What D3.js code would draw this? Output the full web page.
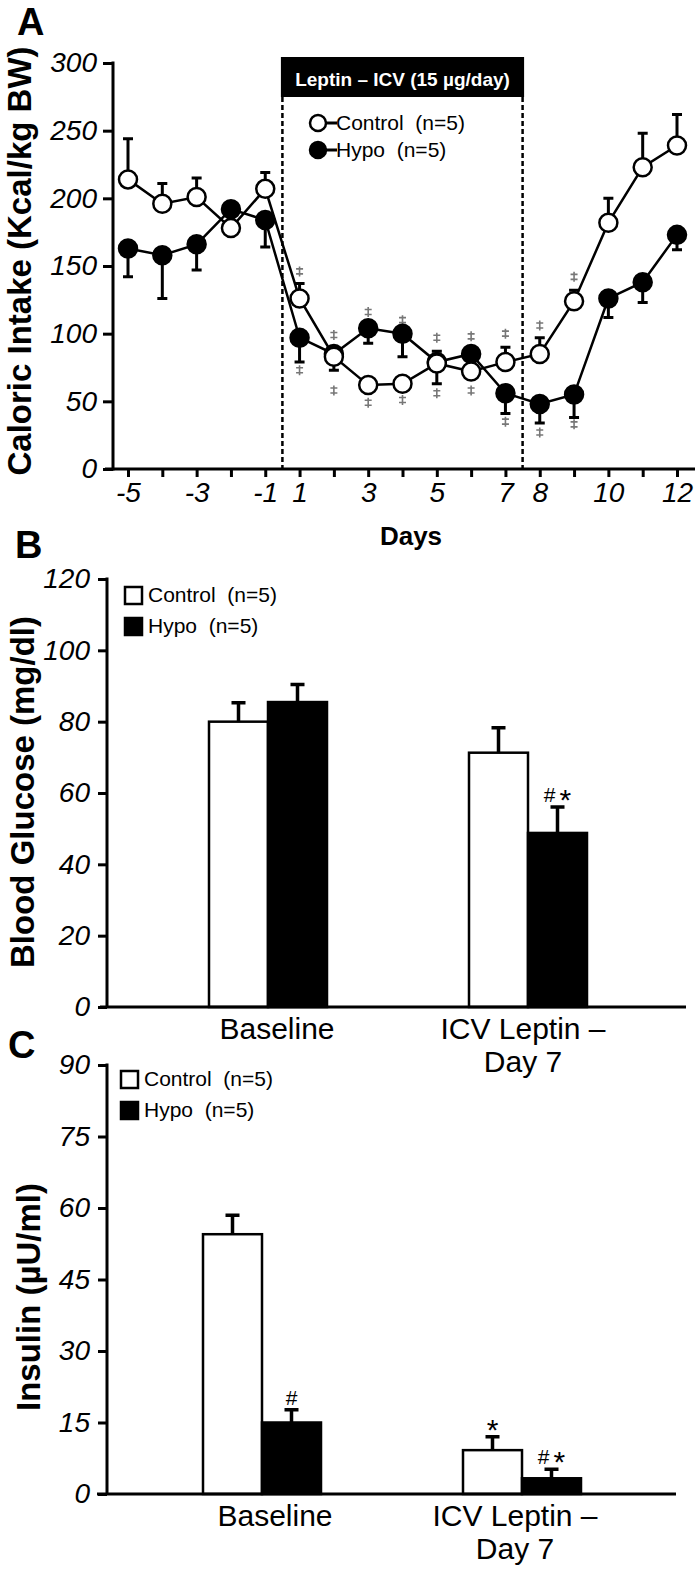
<!DOCTYPE html>
<html>
<head>
<meta charset="utf-8">
<script src="https://cdnjs.cloudflare.com/ajax/libs/d3/7.8.5/d3.min.js"></script>
<style>
  body { margin: 0; background: #fff; }
  svg { font-family: "Liberation Sans", Arial, sans-serif; }
</style>
</head>
<body>
<div id="chart"></div>
<script>
// ---- panel A: caloric intake per day ----
var days = ["-5", "-4", "-3", "-2", "-1", "1", "2", "3", "4", "5", "6", "7", "8", "9", "10", "11", "12"];
var dayLabels = ["-5", "-3", "-1", "1", "3", "5", "7", "8", "10", "12"];
var intakeTicks = [0, 50, 100, 150, 200, 250, 300];
var controlIntake = [214, 196, 201, 178, 207, 126, 83, 62, 63, 78, 72, 79, 85, 124, 182, 223, 239];
var controlIntakeSem = [30, 15, 14, 3, 12, 11, 4, 3, 3, 9, 4, 11, 12, 8, 18, 25, 23];
var hypoIntake = [163, 158, 166, 192, 184, 97, 85, 104, 100, 79, 85, 56, 48, 55, 126, 138, 173];
var hypoIntakeSem = [21, 32, 19, 4, 20, 18, 12, 11, 17, 16, 4, 15, 14, 17, 14, 15, 11];
// double-dagger marks (day, level in kcal/kg)
var sigDays = ["1", "1", "2", "2", "3", "3", "4", "4", "5", "5", "6", "6", "7", "7", "8", "8", "9", "9"];
var sigLevels = [146, 73, 99, 58, 116, 49, 110, 51, 97, 56, 98, 58, 100, 35, 106, 27, 142, 33];

// ---- panels B and C: bars ----
var groups = ["Baseline", "ICV Leptin – Day 7"];
var groupLines = [["Baseline"], ["ICV Leptin –", "Day 7"]];
var series = ["Control  (n=5)", "Hypo  (n=5)"];

var glucoseTicks = [0, 20, 40, 60, 80, 100, 120];
var glucoseControl = [80, 71.3];
var glucoseControlSem = [5.3, 7];
var glucoseHypo = [85.5, 48.8];
var glucoseHypoSem = [4.9, 7.3];
var glucoseControlMarks = ["", ""];
var glucoseHypoMarks = ["", "#*"];

var insulinTicks = [0, 15, 30, 45, 60, 75, 90];
var insulinControl = [54.5, 9.2];
var insulinControlSem = [4, 2.8];
var insulinHypo = [15, 3.3];
var insulinHypoSem = [2.7, 1.9];
var insulinControlMarks = ["", "*"];
var insulinHypoMarks = ["#", "#*"];

var width = 700, height = 1569;

var svg = d3.select("#chart").append("svg")
    .attr("width", width)
    .attr("height", height);

function styleAxis(g, size) {
    g.attr("font-family", null).attr("font-size", null);
    g.select(".domain").remove();
    g.selectAll(".tick line").attr("stroke", "#000").attr("stroke-width", 3);
    g.selectAll(".tick text")
        .attr("fill", "#000")
        .attr("font-size", size)
        .attr("font-style", "italic");
}

function panelLetter(t, x, y, size) {
    svg.append("text")
        .attr("x", x).attr("y", y)
        .attr("font-size", size)
        .attr("font-weight", "bold")
        .text(t);
}

function yTitle(t, x, y) {
    svg.append("text")
        .attr("transform", "translate(" + x + "," + y + ") rotate(-90)")
        .attr("text-anchor", "middle")
        .attr("font-size", 33)
        .attr("font-weight", "bold")
        .text(t);
}

// ================= panel A =================
var xA = d3.scalePoint().domain(days).range([128, 677]);
var yA = d3.scaleLinear().domain([0, 300]).range([469, 63]);

var gA = svg.append("g");

gA.append("g")
    .attr("transform", "translate(113,0)")
    .call(d3.axisLeft(yA).tickValues(intakeTicks).tickSize(10).tickPadding(6))
    .call(styleAxis, 28);

gA.append("g")
    .attr("transform", "translate(0," + yA(0) + ")")
    .call(d3.axisBottom(xA).tickSize(8).tickPadding(5)
        .tickFormat(function(d) { return dayLabels.indexOf(d) >= 0 ? d : ""; }))
    .call(styleAxis, 28);

gA.append("line")
    .attr("x1", 113).attr("x2", 113)
    .attr("y1", yA(300) - 1.5).attr("y2", yA(0) + 1.5)
    .attr("stroke", "#000").attr("stroke-width", 3);
gA.append("line")
    .attr("x1", 105).attr("x2", 695)
    .attr("y1", yA(0)).attr("y2", yA(0))
    .attr("stroke", "#000").attr("stroke-width", 3);

// leptin period: dashed lines + header box
var leptinStart = (xA("-1") + xA("1")) / 2,
    leptinEnd = (xA("7") + xA("8")) / 2;

[leptinStart, leptinEnd].forEach(function(lx) {
    gA.append("line")
        .attr("x1", lx).attr("x2", lx)
        .attr("y1", 97).attr("y2", yA(0))
        .attr("stroke", "#000").attr("stroke-width", 2.5)
        .attr("stroke-dasharray", "5,3");
});

gA.append("rect")
    .attr("x", leptinStart - 1.5).attr("y", 57)
    .attr("width", leptinEnd - leptinStart + 3).attr("height", 40)
    .attr("fill", "#000");
gA.append("text")
    .attr("x", (leptinStart + leptinEnd) / 2).attr("y", 86)
    .attr("text-anchor", "middle")
    .attr("fill", "#fff")
    .attr("font-size", 19)
    .attr("font-weight", "bold")
    .text("Leptin – ICV (15 µg/day)");

// ‡ drawn as small strokes so it stays plain grey
gA.selectAll(".sig")
    .data(sigDays)
    .enter().append("path")
    .attr("class", "sig")
    .attr("transform", function(d, i) { return "translate(" + xA(d) + "," + yA(sigLevels[i]) + ")"; })
    .attr("d", "M0,-5V5M-3.5,-2.5H3.5M-3.5,2.5H3.5")
    .attr("stroke", "#777")
    .attr("stroke-width", 1.6)
    .attr("fill", "none");

function drawSeries(values, sem, dir, fill) {
    var g = gA.append("g");
    g.selectAll(".err")
        .data(values)
        .enter().append("path")
        .attr("d", function(d, i) {
            var cx = xA(days[i]), y0 = yA(d), y1 = yA(d + dir * sem[i]);
            return "M" + cx + "," + y0 + "V" + y1 + "M" + (cx - 5) + "," + y1 + "H" + (cx + 5);
        })
        .attr("stroke", "#000").attr("stroke-width", 3).attr("fill", "none");

    g.append("path")
        .datum(values)
        .attr("d", d3.line()
            .x(function(d, i) { return xA(days[i]); })
            .y(function(d) { return yA(d); }))
        .attr("fill", "none")
        .attr("stroke", "#000")
        .attr("stroke-width", 2.5);

    g.selectAll("circle")
        .data(values)
        .enter().append("circle")
        .attr("cx", function(d, i) { return xA(days[i]); })
        .attr("cy", function(d) { return yA(d); })
        .attr("r", 9)
        .attr("fill", fill)
        .attr("stroke", "#000")
        .attr("stroke-width", 2.5);
}

drawSeries(hypoIntake, hypoIntakeSem, -1, "#000");
drawSeries(controlIntake, controlIntakeSem, 1, "#fff");

// legend A
[[123, "#fff", series[0]], [150, "#000", series[1]]].forEach(function(l) {
    gA.append("line")
        .attr("x1", 318).attr("x2", 337)
        .attr("y1", l[0]).attr("y2", l[0])
        .attr("stroke", "#000").attr("stroke-width", 3);
    gA.append("circle")
        .attr("cx", 318).attr("cy", l[0]).attr("r", 8)
        .attr("fill", l[1]).attr("stroke", "#000").attr("stroke-width", 2.5);
    gA.append("text")
        .attr("x", 336).attr("y", l[0] + 7)
        .attr("font-size", 21)
        .style("white-space", "pre")
        .text(l[2]);
});

gA.append("text")
    .attr("x", 411).attr("y", 545)
    .attr("text-anchor", "middle")
    .attr("font-size", 26)
    .attr("font-weight", "bold")
    .text("Days");

yTitle("Caloric Intake (Kcal/kg BW)", 31, 261);
panelLetter("A", 17, 35, 38);

// ================= bar panels =================
function drawBars(o) {
    var y = d3.scaleLinear().domain([0, o.ticks[o.ticks.length - 1]]).range(o.yRange);
    var gx = d3.scalePoint().domain(groups).range(o.centers);
    var sx = d3.scaleBand().domain(series).range([-59, 59]);
    var g = svg.append("g");

    g.append("g")
        .attr("transform", "translate(" + o.axisX + ",0)")
        .call(d3.axisLeft(y).tickValues(o.ticks).tickSize(9).tickPadding(8))
        .call(styleAxis, 28);
    g.append("line")
        .attr("x1", o.axisX).attr("x2", o.axisX)
        .attr("y1", y.range()[1] - 1.5).attr("y2", y(0))
        .attr("stroke", "#000").attr("stroke-width", 3);

    var bars = [];
    groups.forEach(function(grp, i) {
        bars.push({ g: grp, s: series[0], v: o.control[i], e: o.controlSem[i], m: o.controlMarks[i], fill: "#fff" });
        bars.push({ g: grp, s: series[1], v: o.hypo[i], e: o.hypoSem[i], m: o.hypoMarks[i], fill: "#000" });
    });
    function cx(d) { return gx(d.g) + sx(d.s) + sx.bandwidth() / 2; }

    g.selectAll(".err")
        .data(bars)
        .enter().append("path")
        .attr("d", function(d) {
            var x = cx(d), y1 = y(d.v + d.e);
            return "M" + x + "," + y(d.v) + "V" + y1 + "M" + (x - 7) + "," + y1 + "H" + (x + 7);
        })
        .attr("stroke", "#000").attr("stroke-width", 3.5).attr("fill", "none");

    g.selectAll(".bar")
        .data(bars)
        .enter().append("rect")
        .attr("x", function(d) { return gx(d.g) + sx(d.s); })
        .attr("y", function(d) { return y(d.v); })
        .attr("width", sx.bandwidth())
        .attr("height", function(d) { return y(0) - y(d.v); })
        .attr("fill", function(d) { return d.fill; })
        .attr("stroke", "#000")
        .attr("stroke-width", 2.5);

    // significance marks: "#" plus a larger "*" on the same line
    var marks = g.selectAll(".mark")
        .data(bars.filter(function(d) { return d.m; }))
        .enter().append("text")
        .attr("x", cx)
        .attr("y", function(d) { return y(d.v + d.e) - 5; })
        .attr("text-anchor", "middle");
    marks.each(function(d) {
        var t = d3.select(this);
        d.m.split("").forEach(function(c, k) {
            var ts = t.append("tspan").text(c);
            if (c === "*") {
                ts.attr("font-size", 30).attr("dy", 8).attr("dx", k > 0 ? 4 : 0);
            } else {
                ts.attr("font-size", 21);
            }
        });
    });

    g.append("line")
        .attr("x1", o.lineX[0]).attr("x2", o.lineX[1])
        .attr("y1", y(0)).attr("y2", y(0))
        .attr("stroke", "#000").attr("stroke-width", 3);

    groups.forEach(function(grp, i) {
        groupLines[i].forEach(function(t, j) {
            g.append("text")
                .attr("x", gx(grp) + o.labelShift[i])
                .attr("y", y(0) + 32 + j * 33)
                .attr("text-anchor", "middle")
                .attr("font-size", 30)
                .text(t);
        });
    });

    [["#fff", series[0], 0], ["#000", series[1], 1]].forEach(function(l) {
        var ly = o.legend[1] + l[2] * 31;
        g.append("rect")
            .attr("x", o.legend[0]).attr("y", ly)
            .attr("width", 17).attr("height", 17)
            .attr("fill", l[0]).attr("stroke", "#000").attr("stroke-width", 2.5);
        g.append("text")
            .attr("x", o.legend[0] + 23).attr("y", ly + 15)
            .attr("font-size", 21)
            .style("white-space", "pre")
            .text(l[1]);
    });
}

drawBars({
    ticks: glucoseTicks, yRange: [1007, 579], centers: [268, 528], axisX: 107, lineX: [100, 686],
    control: glucoseControl, controlSem: glucoseControlSem, controlMarks: glucoseControlMarks,
    hypo: glucoseHypo, hypoSem: glucoseHypoSem, hypoMarks: glucoseHypoMarks,
    legend: [125, 587], labelShift: [9, -5]
});
yTitle("Blood Glucose (mg/dl)", 34, 792);
panelLetter("B", 15, 558, 38);

drawBars({
    ticks: insulinTicks, yRange: [1494, 1065], centers: [262, 522], axisX: 107, lineX: [97, 676],
    control: insulinControl, controlSem: insulinControlSem, controlMarks: insulinControlMarks,
    hypo: insulinHypo, hypoSem: insulinHypoSem, hypoMarks: insulinHypoMarks,
    legend: [121, 1071], labelShift: [13, -7]
});
yTitle("Insulin (µU/ml)", 40, 1297);
panelLetter("C", 8, 1058, 38);
</script>
</body>
</html>
